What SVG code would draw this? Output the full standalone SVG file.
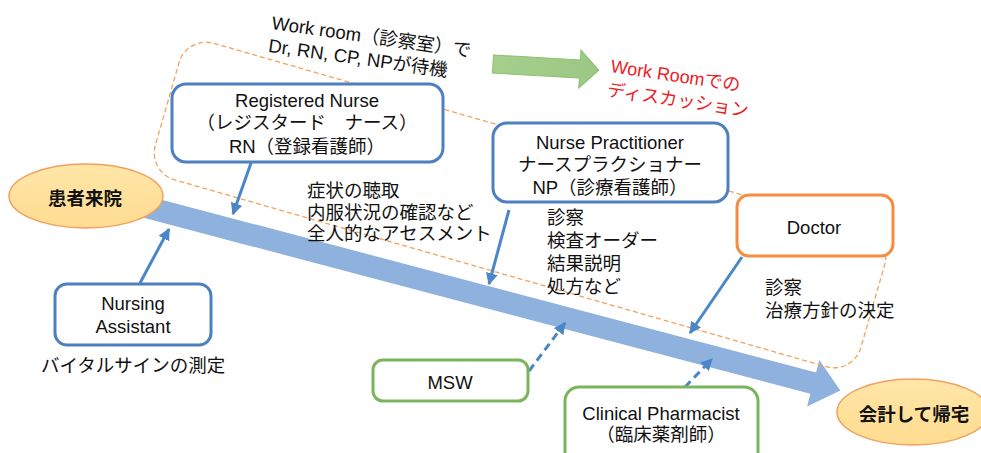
<svg xmlns="http://www.w3.org/2000/svg" width="981" height="453" viewBox="0 0 981 453">
<defs>
<style>
text{font-family:"Liberation Sans","Noto Sans CJK JP",sans-serif;font-size:18.5px;fill:#111}
.c{text-anchor:middle}
.b{font-weight:bold}
.red{fill:#EE1C25;font-size:18px}
.box{fill:#fff;stroke-width:3}
.blue{stroke:#4E80C0}
.orange{stroke:#F58C42}
.green{stroke:#7AB55C}
.conn{stroke:#4A86C8;stroke-width:3;fill:none}
.dash{stroke-dasharray:8 5}
.ell{stroke:#F0A060;stroke-width:1.5}
</style>
<marker id="ah" viewBox="0 0 10 10" refX="9" refY="5" markerWidth="4" markerHeight="4" orient="auto">
<path d="M0,0 L10,5 L0,10 z" fill="#4A86C8"/>
</marker>
<linearGradient id="gy" x1="0" y1="0" x2="0" y2="1">
<stop offset="0" stop-color="#FFE6A8"/>
<stop offset="1" stop-color="#FFDC90"/>
</linearGradient>
<linearGradient id="gg" x1="0" y1="0" x2="1" y2="0">
<stop offset="0" stop-color="#A6CF8C"/>
<stop offset="1" stop-color="#9BC784"/>
</linearGradient>
</defs>

<g id="flow-arrow">
<polygon transform="translate(150,208) rotate(14.8)" points="-30,-11 686,-11 686,-24 714,0 686,24 686,11 -30,11" fill="#8EB1DD"/>
</g>

<g id="workroom-area">
<rect x="153" y="134" width="734" height="142" rx="28" ry="28" transform="rotate(16 520 205)" fill="none" stroke="#F4A15E" stroke-width="1.3" stroke-dasharray="5 3"/>
</g>

<g id="workroom-label">
<g transform="rotate(8 271 29)">
<text x="271" y="29">Work room（診察室）で</text>
<text x="271" y="52">Dr, RN, CP, NPが待機</text>
</g>
</g>

<g id="green-arrow">
<polygon transform="translate(493,64) rotate(3.3)" points="0,-9 87,-9 87,-19 106,0 87,19 87,9 0,9" fill="url(#gg)" stroke="#8DC070" stroke-width="1"/>
</g>

<g id="discussion-label">
<g transform="rotate(8.5 610 72)">
<text class="red" x="610" y="72">Work Roomでの</text>
<text class="red" x="610" y="96">ディスカッション</text>
</g>
</g>

<g id="connectors">
<line class="conn" x1="251" y1="163" x2="233" y2="214" marker-end="url(#ah)"/>
<line class="conn" x1="140" y1="283" x2="169" y2="229" marker-end="url(#ah)"/>
<line class="conn" x1="509" y1="210" x2="489" y2="284" marker-end="url(#ah)"/>
<line class="conn" x1="742" y1="257" x2="690" y2="333" marker-end="url(#ah)"/>
<line class="conn dash" x1="529" y1="371" x2="565" y2="323" marker-end="url(#ah)"/>
<line class="conn dash" x1="685" y1="387" x2="712" y2="359" marker-end="url(#ah)"/>
</g>

<g id="patient-arrival">
<ellipse cx="86" cy="196" rx="77" ry="32" fill="url(#gy)" class="ell"/>
<text class="c b" x="85" y="205">患者来院</text>
</g>

<g id="checkout-home">
<ellipse cx="913" cy="412" rx="76" ry="33" fill="url(#gy)" class="ell"/>
<text class="c b" x="914" y="421">会計して帰宅</text>
</g>

<g id="registered-nurse">
<rect class="box blue" x="172" y="84" width="271" height="78" rx="14"/>
<text class="c" x="307" y="107">Registered Nurse</text>
<text class="c" x="307" y="129">（レジスタード　ナース）</text>
<text class="c" x="307" y="153">RN（登録看護師）</text>
</g>

<g id="nurse-practitioner">
<rect class="box blue" x="493" y="123" width="235" height="79" rx="14"/>
<text class="c" x="610" y="149">Nurse Practitioner</text>
<text class="c" x="610" y="171">ナースプラクショナー</text>
<text class="c" x="610" y="194">NP（診療看護師）</text>
</g>

<g id="doctor">
<rect class="box orange" x="737" y="195" width="156" height="61" rx="12"/>
<text class="c" x="814" y="234">Doctor</text>
</g>

<g id="nursing-assistant">
<rect class="box blue" x="55" y="284" width="156" height="61" rx="12"/>
<text class="c" x="133" y="310">Nursing</text>
<text class="c" x="133" y="333">Assistant</text>
</g>

<g id="msw">
<rect class="box green" x="373" y="360" width="155" height="41" rx="10"/>
<text class="c" x="450" y="389">MSW</text>
</g>

<g id="clinical-pharmacist">
<rect class="box green" x="565" y="387" width="193" height="80" rx="14"/>
<text class="c" x="661" y="420">Clinical Pharmacist</text>
<text class="c" x="661" y="441">（臨床薬剤師）</text>
</g>

<g id="notes">
<text x="307" y="197">症状の聴取</text>
<text x="307" y="219">内服状況の確認など</text>
<text x="307" y="240">全人的なアセスメント</text>
<text x="547" y="224">診察</text>
<text x="547" y="247">検査オーダー</text>
<text x="547" y="270">結果説明</text>
<text x="547" y="293">処方など</text>
<text x="765" y="294">診察</text>
<text x="765" y="317">治療方針の決定</text>
<text x="41" y="372">バイタルサインの測定</text>
</g>
</svg>
